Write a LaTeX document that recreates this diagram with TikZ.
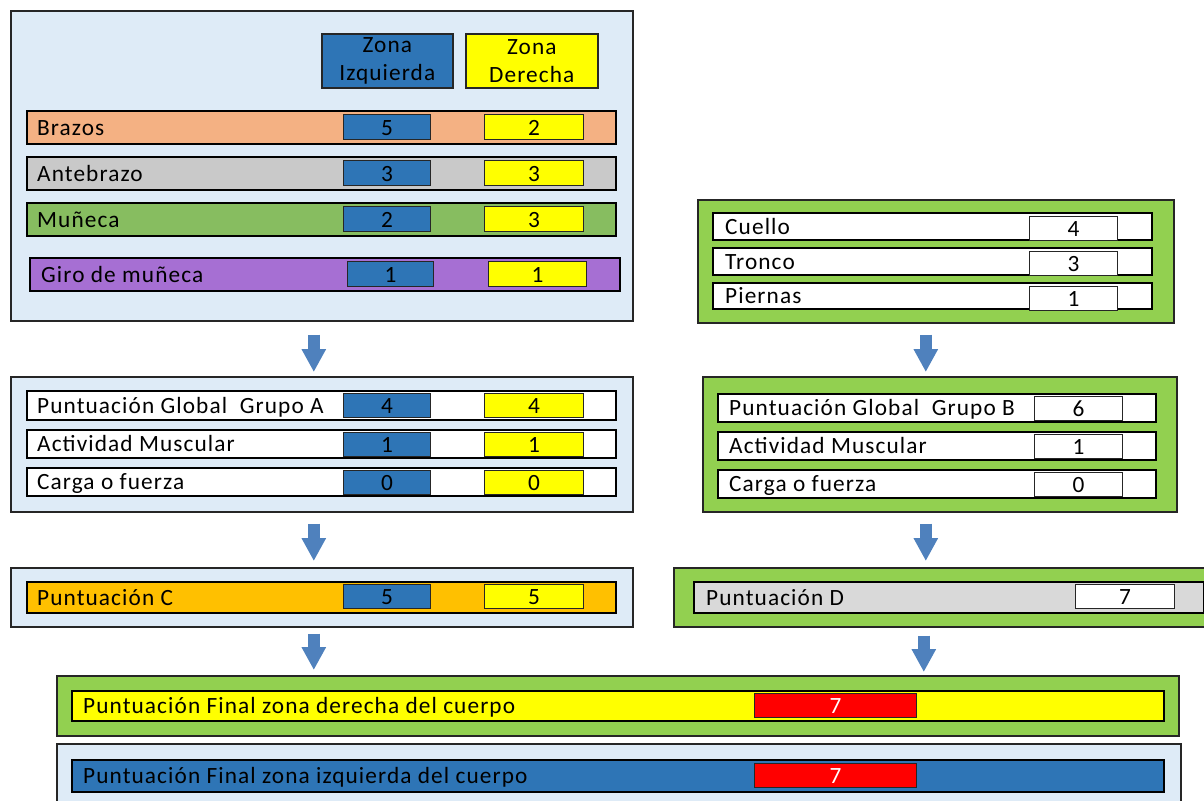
\documentclass[tikz,border=0pt]{standalone}
\usepackage{fontspec}
\setmainfont{Carlito}[LetterSpace=4.7]
\usetikzlibrary{arrows.meta,calc}

\definecolor{paleblue}{HTML}{DEEBF7}
\definecolor{zoneblue}{HTML}{2E75B6}
\definecolor{zoneyellow}{HTML}{FFFF00}
\definecolor{brazoscol}{HTML}{F4B183}
\definecolor{antecol}{HTML}{C9C9C9}
\definecolor{munecacol}{HTML}{87BD60}
\definecolor{girocol}{HTML}{A66FD3}
\definecolor{panelgreen}{HTML}{92D050}
\definecolor{puntC}{HTML}{FFC000}
\definecolor{puntD}{HTML}{D9D9D9}
\definecolor{scorered}{HTML}{FF0000}
\definecolor{arrowblue}{HTML}{4F81BD}
\definecolor{edgegray}{HTML}{262626}

% rectangle node given by its corners: style, name, x0, y0, x1, y1, text
\newcommand\rectnode[7]{%
  \node[#1, anchor=north west, minimum width=#5-#3, minimum height=#6-#4]
    (#2) at (#3,#4) {#7};}

\tikzset{
  panel/.style={draw=edgegray, line width=1.6pt, inner sep=0pt},
  rowbox/.style={draw=black, line width=1.5pt, inner sep=0pt},
  valbox/.style={draw=black!85, line width=1.2pt, inner sep=0pt,
    text height=20pt, text depth=4pt},
  lbl/.style={inner sep=0pt, text height=20pt, text depth=4pt, anchor=west},
  flow/.style={draw=arrowblue, line width=12pt,
    -{Triangle[width=23pt,length=23pt]}},
}

\begin{document}
\begin{tikzpicture}[x=1pt,y=-1pt,
  font=\fontsize{23.3}{28}\selectfont]
\useasboundingbox (0,0) rectangle (1204,800);

% ---------- Group A : upper limbs ----------
\rectnode{panel,fill=paleblue}{pA}{10}{10}{632}{320}{}
\rectnode{panel,fill=zoneblue,align=center}{hIzq}{321}{33}{452}{87}{Zona\\Izquierda}
\rectnode{panel,fill=zoneyellow,align=center}{hDer}{465}{33}{597}{87}{Zona\\Derecha}

\rectnode{rowbox,fill=brazoscol}{rBra}{26}{110}{615}{143}{}
\node[lbl] (tBra) at ([xshift=11pt]rBra.west) {Brazos};
\rectnode{valbox,fill=zoneblue}{vBraI}{343}{114}{430}{139}{5}
\rectnode{valbox,fill=zoneyellow}{vBraD}{484}{114}{583}{139}{2}

\rectnode{rowbox,fill=antecol}{rAnt}{26}{156}{615}{189}{}
\node[lbl] (tAnt) at ([xshift=11pt]rAnt.west) {Antebrazo};
\rectnode{valbox,fill=zoneblue}{vAntI}{343}{160}{430}{185}{3}
\rectnode{valbox,fill=zoneyellow}{vAntD}{484}{160}{583}{185}{3}

\rectnode{rowbox,fill=munecacol}{rMun}{26}{202}{615}{235}{}
\node[lbl] (tMun) at ([xshift=11pt]rMun.west) {Muñeca};
\rectnode{valbox,fill=zoneblue}{vMunI}{343}{206}{430}{231}{2}
\rectnode{valbox,fill=zoneyellow}{vMunD}{484}{206}{583}{231}{3}

\rectnode{rowbox,fill=girocol}{rGir}{29}{257}{619}{290}{}
\node[lbl] (tGir) at ([xshift=12pt]rGir.west) {Giro de muñeca};
\rectnode{valbox,fill=zoneblue}{vGirI}{347}{261}{433}{286}{1}
\rectnode{valbox,fill=zoneyellow}{vGirD}{488}{261}{586}{286}{1}

% ---------- Group A : adjustments ----------
\rectnode{panel,fill=paleblue}{pA2}{10}{376}{632}{511}{}

\rectnode{rowbox,fill=white}{rGA}{26}{390}{615}{419}{}
\node[lbl] (tGA) at ([xshift=11pt]rGA.west) {Puntuación Global\ \ Grupo A};
\rectnode{valbox,fill=zoneblue}{vGAI}{343}{393}{430}{416}{4}
\rectnode{valbox,fill=zoneyellow}{vGAD}{484}{393}{583}{416}{4}

\rectnode{rowbox,fill=white}{rAMa}{26}{429}{615}{457}{}
\node[lbl] (tAMa) at ([xshift=11pt]rAMa.west) {Actividad Muscular};
\rectnode{valbox,fill=zoneblue}{vAMaI}{343}{432}{430}{455}{1}
\rectnode{valbox,fill=zoneyellow}{vAMaD}{484}{432}{583}{455}{1}

\rectnode{rowbox,fill=white}{rCFa}{26}{467}{615}{495}{}
\node[lbl] (tCFa) at ([xshift=11pt]rCFa.west) {Carga o fuerza};
\rectnode{valbox,fill=zoneblue}{vCFaI}{343}{470}{430}{493}{0}
\rectnode{valbox,fill=zoneyellow}{vCFaD}{484}{470}{583}{493}{0}

% ---------- Score C ----------
\rectnode{panel,fill=paleblue}{pC}{10}{567}{632}{626}{}
\rectnode{rowbox,fill=puntC}{rC}{26}{581}{615}{612}{}
\node[lbl] (tC) at ([xshift=11pt]rC.west) {Puntuación C};
\rectnode{valbox,fill=zoneblue}{vCI}{343}{584}{430}{608}{5}
\rectnode{valbox,fill=zoneyellow}{vCD}{484}{584}{583}{608}{5}

% ---------- Group B : neck, trunk, legs ----------
\rectnode{panel,fill=panelgreen}{pB}{697}{199}{1173}{322}{}

\rectnode{rowbox,fill=white}{rCue}{712}{212}{1151}{239}{}
\node[lbl] (tCue) at ([xshift=13pt]rCue.west) {Cuello};
\rectnode{valbox,fill=white}{vCue}{1029}{216}{1117}{235}{4}

\rectnode{rowbox,fill=white}{rTro}{712}{247}{1151}{274}{}
\node[lbl] (tTro) at ([xshift=13pt]rTro.west) {Tronco};
\rectnode{valbox,fill=white}{vTro}{1029}{251}{1117}{270}{3}

\rectnode{rowbox,fill=white}{rPie}{712}{282}{1151}{308}{}
\node[lbl] (tPie) at ([xshift=13pt]rPie.west) {Piernas};
\rectnode{valbox,fill=white}{vPie}{1029}{286}{1117}{305}{1}

% ---------- Group B : adjustments ----------
\rectnode{panel,fill=panelgreen}{pB2}{702}{376}{1176}{511}{}

\rectnode{rowbox,fill=white}{rGB}{717}{393}{1155}{421}{}
\node[lbl] (tGB) at ([xshift=12pt]rGB.west) {Puntuación Global\ \ Grupo B};
\rectnode{valbox,fill=white}{vGB}{1034}{396}{1122}{418}{6}

\rectnode{rowbox,fill=white}{rAMb}{717}{431}{1155}{459}{}
\node[lbl] (tAMb) at ([xshift=12pt]rAMb.west) {Actividad Muscular};
\rectnode{valbox,fill=white}{vAMb}{1034}{434}{1122}{456}{1}

\rectnode{rowbox,fill=white}{rCFb}{717}{469}{1155}{497}{}
\node[lbl] (tCFb) at ([xshift=12pt]rCFb.west) {Carga o fuerza};
\rectnode{valbox,fill=white}{vCFb}{1034}{472}{1122}{494}{0}

% ---------- Score D ----------
\rectnode{panel,fill=panelgreen}{pD}{673}{567}{1220}{626}{}
\rectnode{rowbox,fill=puntD}{rD}{693}{581}{1203}{612}{}
\node[lbl] (tD) at ([xshift=13pt]rD.west) {Puntuación D};
\rectnode{valbox,fill=white}{vD}{1075}{584}{1174}{607}{7}

% ---------- Final scores ----------
\rectnode{panel,fill=panelgreen}{pFR}{56}{675}{1178}{735}{}
\rectnode{rowbox,fill=zoneyellow}{rFR}{71}{690}{1163}{720}{}
\node[lbl] (tFR) at ([xshift=12pt]rFR.west) {Puntuación Final zona derecha del cuerpo};
\rectnode{valbox,fill=scorered,text=white}{vFR}{754}{693}{916}{717}{7}

\rectnode{panel,fill=paleblue}{pFL}{56}{743}{1180}{830}{}
\rectnode{rowbox,fill=zoneblue}{rFL}{71}{759}{1163}{791}{}
\node[lbl] (tFL) at ([xshift=12pt]rFL.west) {Puntuación Final zona izquierda del cuerpo};
\rectnode{valbox,fill=scorered,text=white}{vFL}{754}{763}{916}{786}{7}

% ---------- Flow arrows ----------
\coordinate (a1s) at ($(pA.south)+(-8,13)$);
\coordinate (a1e) at (a1s |- pA2.north);
\draw[flow] (a1s) -- ([yshift=4pt]a1e);

\coordinate (a2s) at ($(pA2.south)+(-8,11)$);
\coordinate (a2e) at (a2s |- pC.north);
\draw[flow] (a2s) -- ([yshift=6pt]a2e);

\coordinate (a3s) at ($(pC.south)+(-8,6)$);
\coordinate (a3e) at (a3s |- pFR.north);
\draw[flow] (a3s) -- ([yshift=5pt]a3e);

\coordinate (b1s) at ($(pB.south)+(-10,11)$);
\coordinate (b1e) at (b1s |- pB2.north);
\draw[flow] (b1s) -- ([yshift=4pt]b1e);

\coordinate (b2s) at ($(pB2.south)+(-14,11)$);
\coordinate (b2e) at (b2s |- pD.north);
\draw[flow] (b2s) -- ([yshift=6pt]b2e);

\coordinate (b3s) at ($(pB2.south |- pD.south)+(-16,8)$);
\coordinate (b3e) at (b3s |- pFR.north);
\draw[flow] (b3s) -- ([yshift=3pt]b3e);
\end{tikzpicture}
\end{document}
